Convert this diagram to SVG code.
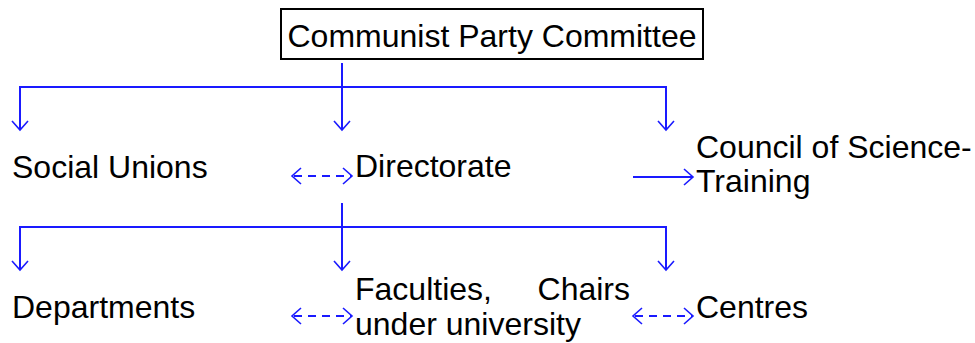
<svg xmlns="http://www.w3.org/2000/svg" width="975" height="343" viewBox="0 0 975 343">
  <style>
    .lbl { font-family: "Liberation Sans", Arial, sans-serif; font-size: 32px; fill: #000; }
    .wire { stroke: #1a1aff; stroke-width: 2; fill: none; }
    .arr { stroke: #1a1aff; stroke-width: 2; fill: none; marker-end: url(#head); }
    .dash { stroke: #1a1aff; stroke-width: 2; fill: none; stroke-dasharray: 8 6; stroke-dashoffset: -2; marker-start: url(#head); marker-end: url(#head); }
  </style>
  <defs>
    <marker id="head" markerUnits="userSpaceOnUse" markerWidth="12" markerHeight="20" refX="10" refY="9" orient="auto-start-reverse" viewBox="0 0 12 20">
      <path d="M1,1 L10,9 L1,17" fill="none" stroke="#1a1aff" stroke-width="1.6"/>
    </marker>
  </defs>

  <rect width="975" height="343" fill="#fff"/>

  <!-- nodes -->
  <g id="party-committee">
    <rect x="281" y="9" width="422" height="50" fill="#fff" stroke="#000" stroke-width="2"/>
    <text class="lbl" x="492" y="47" text-anchor="middle">Communist Party Committee</text>
  </g>
  <g id="social-unions">
    <text class="lbl" x="12" y="178">Social Unions</text>
  </g>
  <g id="directorate">
    <text class="lbl" x="355" y="177">Directorate</text>
  </g>
  <g id="council">
    <text class="lbl" x="696" y="158">Council of Science-</text>
    <text class="lbl" x="696" y="192">Training</text>
  </g>
  <g id="departments">
    <text class="lbl" x="12" y="318">Departments</text>
  </g>
  <g id="faculties">
    <text class="lbl" x="355" y="300">Faculties,</text>
    <text class="lbl" x="630" y="300" text-anchor="end">Chairs</text>
    <text class="lbl" x="355" y="335">under university</text>
  </g>
  <g id="centres">
    <text class="lbl" x="696" y="318">Centres</text>
  </g>

  <!-- connectors -->
  <g id="connectors">
    <!-- committee to first tier -->
    <line class="arr" x1="342" y1="63" x2="342" y2="130"/>
    <polyline class="wire" points="20,100 20,87 666,87 666,100"/>
    <line class="arr" x1="20" y1="99" x2="20" y2="130"/>
    <line class="arr" x1="666" y1="99" x2="666" y2="130"/>
    <!-- first tier side links -->
    <line class="dash" x1="292" y1="176" x2="352" y2="176"/>
    <line class="arr" x1="633" y1="177" x2="693" y2="177"/>
    <!-- directorate to second tier -->
    <line class="arr" x1="342" y1="203" x2="342" y2="270"/>
    <polyline class="wire" points="20,240 20,227 666,227 666,240"/>
    <line class="arr" x1="20" y1="239" x2="20" y2="270"/>
    <line class="arr" x1="666" y1="239" x2="666" y2="270"/>
    <!-- second tier side links -->
    <line class="dash" x1="292" y1="316" x2="352" y2="316"/>
    <line class="dash" x1="633" y1="316" x2="693" y2="316"/>
  </g>
</svg>
